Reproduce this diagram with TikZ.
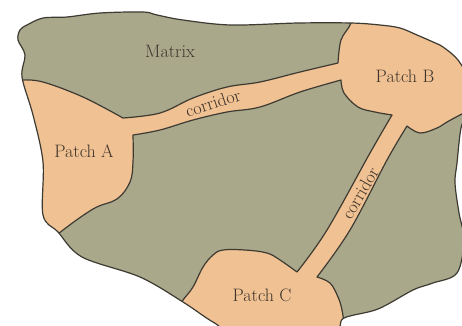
\documentclass[tikz,border=0pt]{standalone}
\usepackage{fontspec}
\definecolor{matrixc}{HTML}{A9A88B}
\definecolor{patchc}{HTML}{F0C193}
\definecolor{edgec}{HTML}{3D3A32}
\definecolor{textc}{HTML}{3E342B}
\tikzset{
  outline/.style={draw=edgec,line width=1.2pt,line join=round,line cap=round},
  lbl/.style={text=textc,font=\fontsize{18}{18}\selectfont,inner sep=0pt},
}
\begin{document}
\begin{tikzpicture}[x=1pt,y=-1pt]
\useasboundingbox (0,0) rectangle (462,325);
\clip (0,0) rectangle (462,325);
\path[save path=\outerp] plot[smooth cycle,tension=0.55] coordinates {
 (20,30) (27,25) (43,18) (67,17) (100,13) (143,12) (157,15) (183,20) (231,25)
 (298,23) (351,23) (380,25) (400,28) (417,35) (433,42) (443,47) (458,60)
 (468,80) (468,110) (461,128) (457,163) (455,183) (459,213) (464,240) (457,273)
 (433,283) (413,290) (378,309) (344,318) (330,332) (240,334) (213,322)
 (183,302) (140,277) (82,257) (58,232) (43,215) (43,162) (33,115) (22,77)
 (25,55) (18,40)};
\begin{scope}
\clip[use path=\outerp];
\fill[matrixc] (0,0) rectangle (462,340);
\path[fill=patchc,outline] (0,70)
 -- plot[smooth,tension=0.6] coordinates {(22,80) (43,82) (83,97) (123,118)}
 -- plot[smooth,tension=0.6] coordinates {(123,118) (160,113) (193,98) (227,87) (260,82) (300,72) (338,63)}
 -- plot[smooth,tension=0.6] coordinates {(338,63) (341,40) (351,23) (356,0)}
 -- (480,0) -- (480,110)
 -- plot[smooth,tension=0.6] coordinates {(472,110) (462,114) (447,122) (437,128) (420,133) (407,126)}
 -- plot[smooth,tension=0.6] coordinates {(407,126) (387,160) (350,230) (317,277)}
 -- plot[smooth,tension=0.6] coordinates {(317,277) (330,283) (338,297) (342,310) (344,325) (345,345)}
 -- (175,345)
 -- plot[smooth,tension=0.6] coordinates {(175,312) (183,300) (193,287) (203,267) (213,255) (223,250) (245,250) (267,253) (280,260) (297,272)}
 -- plot[smooth,tension=0.6] coordinates {(297,272) (327,230) (370,153) (392,115)}
 -- plot[smooth,tension=0.6] coordinates {(392,115) (375,112) (358,107) (344,93) (341,80)}
 -- plot[smooth,tension=0.6] coordinates {(341,80) (300,92) (260,107) (227,112) (193,120) (160,130) (133,135)}
 -- plot[smooth,tension=0.6] coordinates {(133,135) (133,162) (130,182) (117,199) (93,209) (58,234) (40,252)}
 -- (0,252) -- cycle;
\end{scope}
\path[outline,use path=\outerp];
\node[lbl] (matrix) at (170,51) {Matrix};
\node[lbl] (pa) at (84,151) {Patch A};
\node[lbl] (pb) at (405,76) {Patch B};
\node[lbl] (pc) at (262,295) {Patch C};
\node[lbl,rotate=18] (c1) at (213,103) {corridor};
\node[lbl,rotate=60] (c2) at (360,193) {corridor};
\end{tikzpicture}
\end{document}
